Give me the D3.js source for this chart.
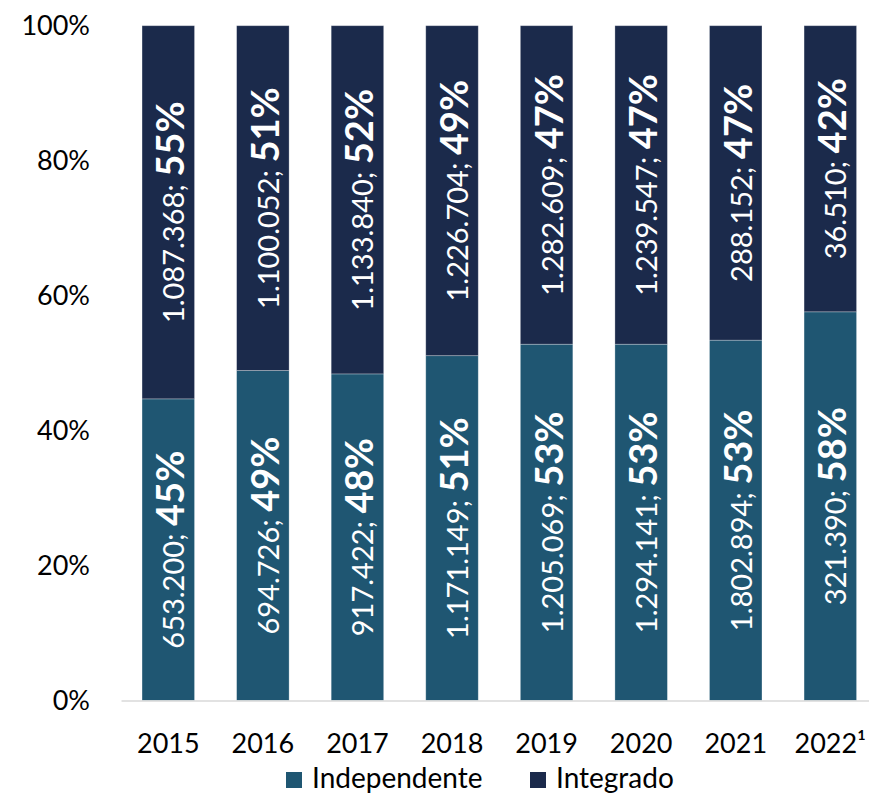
<!DOCTYPE html>
<html>
<head>
<meta charset="utf-8">
<script src="https://cdn.jsdelivr.net/npm/d3@7"></script>
<style>
  body { margin: 0; background: #fff; }
  svg { display: block; font-family: Lato, "Open Sans", sans-serif; }
</style>
</head>
<body>
<svg id="chart" width="869" height="797"></svg>
<script>
// years on the x axis
var years = ["2015", "2016", "2017", "2018", "2019", "2020", "2021", "2022"];
var yearLabels = ["2015", "2016", "2017", "2018", "2019", "2020", "2021", "2022\u00b9"];

// absolute counts shown in the labels
var independente = [653200, 694726, 917422, 1171149, 1205069, 1294141, 1802894, 321390];
var integrado = [1087368, 1100052, 1133840, 1226704, 1282609, 1239547, 288152, 36510];

// shares (bar heights)
var shareIndependente = [0.447, 0.489, 0.484, 0.511, 0.528, 0.528, 0.534, 0.576];
var shareIntegrado = [0.553, 0.511, 0.516, 0.489, 0.472, 0.472, 0.466, 0.424];

var yTicks = [0, 0.2, 0.4, 0.6, 0.8, 1];
var seriesNames = ["Independente", "Integrado"];
var seriesColors = ["#1f5672", "#1b2a4b"];

var svg = d3.select("#chart");

var ptBR = d3.formatLocale({ decimal: ",", thousands: ".", grouping: [3], currency: ["R$", ""] });
var fmtNum = ptBR.format(",d");
var fmtPct = d3.format(".0%");

// table for the stack
var table = years.map(function (y, i) {
  return {
    year: y,
    Independente: shareIndependente[i],
    Integrado: shareIntegrado[i],
    nIndependente: independente[i],
    nIntegrado: integrado[i]
  };
});

var x = d3.scaleBand()
  .domain(years)
  .range([121, 877.6])
  .paddingInner(0.445)
  .paddingOuter(0.2225);

var y = d3.scaleLinear()
  .domain([0, 1])
  .range([700.5, 25.7]);

var color = d3.scaleOrdinal().domain(seriesNames).range(seriesColors);

var stacked = d3.stack().keys(seriesNames)(table);

// y axis (labels only)
var yAxis = svg.append("g")
  .attr("transform", "translate(90,0)")
  .call(d3.axisLeft(y).tickValues(yTicks).tickFormat(fmtPct).tickSize(0).tickPadding(0));
yAxis.select(".domain").remove();
yAxis.selectAll("text")
  .attr("font-family", "Lato, sans-serif")
  .attr("font-size", 27)
  .attr("fill", "#000");

// bars
var layers = svg.append("g").selectAll("g")
  .data(stacked)
  .enter().append("g")
  .attr("fill", function (d) { return color(d.key); });

layers.selectAll("rect")
  .data(function (d) { return d; })
  .enter().append("rect")
  .attr("x", function (d) { return x(d.data.year); })
  .attr("y", function (d) { return y(d[1]); })
  .attr("width", x.bandwidth())
  .attr("height", function (d) { return y(d[0]) - y(d[1]); })
  .attr("stroke", "#ffffff")
  .attr("stroke-opacity", 0.35)
  .attr("stroke-width", 0.8);

// x axis
var xAxis = svg.append("g")
  .attr("transform", "translate(0,700.5)")
  .call(d3.axisBottom(x).tickSize(0).tickPadding(33)
    .tickFormat(function (d, i) { return yearLabels[i]; }));
xAxis.select(".domain")
  .attr("stroke", "#d9d9d9")
  .attr("stroke-width", 1.5);
xAxis.selectAll("text")
  .attr("font-family", "Lato, sans-serif")
  .attr("font-size", 27)
  .attr("fill", "#000");

// rotated labels inside each segment
layers.each(function (layer) {
  var key = layer.key;
  d3.select(this).selectAll("text")
    .data(layer)
    .enter().append("text")
    .attr("transform", function (d) {
      var cx = x(d.data.year) + x.bandwidth() / 2 + 16;
      var cy = (y(d[0]) + y(d[1])) / 2;
      return "translate(" + cx + "," + cy + ") rotate(-90)";
    })
    .attr("text-anchor", "middle")
    .attr("fill", "#ffffff")
    .each(function (d) {
      var t = d3.select(this);
      t.append("tspan")
        .attr("font-size", 29)
        .text(fmtNum(d.data["n" + key]) + "; ");
      t.append("tspan")
        .attr("font-size", 38)
        .attr("font-weight", "bold")
        .text(fmtPct(d.data[key]));
    });
});

// legend
var legendPos = [286, 530];
var legend = svg.append("g").selectAll("g")
  .data(seriesNames)
  .enter().append("g")
  .attr("transform", function (d, i) { return "translate(" + legendPos[i] + ",772)"; });
legend.append("rect")
  .attr("width", 16)
  .attr("height", 16)
  .attr("fill", function (d) { return color(d); });
legend.append("text")
  .attr("x", 26)
  .attr("y", 16)
  .attr("font-size", 28)
  .attr("fill", "#000")
  .text(function (d) { return d; });
</script>
</body>
</html>
